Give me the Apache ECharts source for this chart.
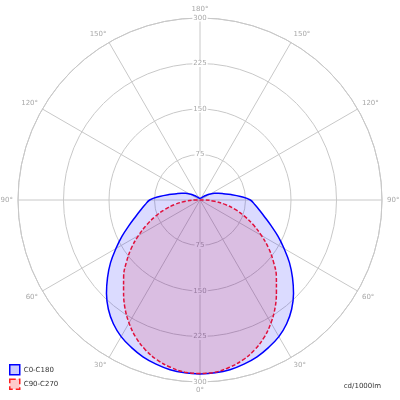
<!DOCTYPE html>
<html>
<head>
<meta charset="utf-8">
<script src="https://cdn.jsdelivr.net/npm/echarts@6/dist/echarts.min.js"></script>
<style>
html,body{margin:0;padding:0;background:#fff;}
#main{width:400px;height:400px;}
</style>
</head>
<body>
<div id="main"></div>
<script>
// gamma angles (0 = straight down), one half of the curve, mirrored later
var angles = [0,5,10,15,20,25,30,35,40,45,50,55,60,65,70,75,80,85,90,95,100,105,110,115,120,125,130,135,140,145,150,155,160,165,170,175,180];
// C0-C180 plane, cd/1000lm
var c0Values = [287,286,284,280,275,268,260,249,235,218,199,180,160,142,125,111,100,91,83,67,52,40,32,26,20,15,11,8,6,5,4,3,3,3,3,3,3];
// C90-C270 plane, cd/1000lm
var c90Values = [286,285,280,273,263,250,234,216,196,178,158,138,117,97,78,60,42,24,6,0,0,0,0,0,0,0,0,0,0,0,0,0,0,0,0,0,0];
var radiusTicks = [0,75,150,225,300];
var seriesNames = ['C0-C180','C90-C270'];
var unitLabel = 'cd/1000lm';

// build full 0..360 polar data, mirrored on both sides
function fullCurve(vals){
	var out = [];
	for (var i = 0; i < angles.length; i++) {
		out.push([vals[i], angles[i]]);
	}
	for (var j = angles.length - 2; j >= 0; j--) {
		out.push([vals[j], 360 - angles[j]]);
	}
	return out;
}

var gridColor = '#c8c8c8';
var labelColor = '#a8a8a8';
var fontName = 'DejaVu Sans';

var myChart = echarts.init(document.getElementById('main'));

var option = {
	animation: false,
	textStyle: { fontFamily: fontName },
	title: {
		text: unitLabel,
		right: 19,
		bottom: 10,
		padding: 0,
		textStyle: { fontSize: 7, fontWeight: 'normal', color: '#333', fontFamily: fontName }
	},
	legend: {
		orient: 'vertical',
		left: 9,
		bottom: 10,
		padding: 0,
		itemWidth: 10,
		itemHeight: 10,
		itemGap: 3,
		icon: 'rect',
		textStyle: { fontSize: 7, color: '#333', fontFamily: fontName, padding: [0,0,0,-1] },
		data: [
			{ name: seriesNames[0], itemStyle: { color: 'rgba(0,0,255,0.2)', borderColor: '#0000ff', borderWidth: 1.5 } },
			{ name: seriesNames[1], itemStyle: { color: 'rgba(255,0,0,0.2)', borderColor: '#ff2020', borderWidth: 1.5, borderType: 'dashed' } }
		]
	},
	polar: [
		{ center: ['50%','50%'], radius: 182 },
		{ center: ['50%','50%'], radius: 182 }
	],
	angleAxis: [
		{
			polarIndex: 0,
			type: 'value',
			min: 0,
			max: 360,
			interval: 30,
			startAngle: 270,
			clockwise: true,
			axisLine: { lineStyle: { color: gridColor, width: 1 } },
			axisTick: { show: false },
			splitLine: { lineStyle: { color: gridColor, width: 1 } },
			axisLabel: {
				color: labelColor,
				fontSize: 7,
				margin: 5,
				formatter: function(v){
					if (v === 360) return '';
					return (v <= 180 ? v : 360 - v) + '°';
				}
			}
		},
		{
			polarIndex: 1,
			type: 'value',
			min: 0,
			max: 360,
			startAngle: 90,
			axisLine: { show: false },
			axisTick: { show: false },
			axisLabel: { show: false },
			splitLine: { show: false }
		}
	],
	radiusAxis: [
		{
			polarIndex: 0,
			type: 'value',
			min: radiusTicks[0],
			max: radiusTicks[radiusTicks.length - 1],
			interval: 75,
			z: 1,
			axisLine: { show: false },
			axisTick: { show: false },
			splitLine: { lineStyle: { color: gridColor, width: 1 } },
			axisLabel: {
				showMinLabel: false,
				color: labelColor,
				fontSize: 7,
				margin: 0,
				align: 'center',
				verticalAlign: 'middle',
				backgroundColor: '#fff',
				padding: [0,1]
			}
		},
		{
			polarIndex: 1,
			type: 'value',
			min: radiusTicks[0],
			max: radiusTicks[radiusTicks.length - 1],
			interval: 75,
			z: 1,
			axisLine: { show: false },
			axisTick: { show: false },
			splitLine: { show: false },
			axisLabel: {
				showMinLabel: false,
				color: labelColor,
				fontSize: 7,
				margin: 0,
				align: 'center',
				verticalAlign: 'middle',
				backgroundColor: '#fff',
				padding: [0,1]
			}
		}
	],
	series: [
		{
			name: seriesNames[0],
			type: 'line',
			coordinateSystem: 'polar',
			polarIndex: 0,
			symbol: 'none',
			smooth: 0.4,
			data: fullCurve(c0Values),
			itemStyle: { color: '#0000ff' },
			lineStyle: { color: '#0000ff', width: 1.5 },
			areaStyle: { color: 'rgba(0,0,255,0.2)' },
			z: 3
		},
		{
			name: seriesNames[1],
			type: 'line',
			coordinateSystem: 'polar',
			polarIndex: 0,
			symbol: 'none',
			smooth: 0.4,
			data: fullCurve(c90Values),
			itemStyle: { color: '#e0103c' },
			lineStyle: { color: '#e0103c', width: 1.5, type: [4,2] },
			areaStyle: { color: 'rgba(211,0,38,0.19)' },
			z: 4
		}
	]
};

myChart.setOption(option);
</script>
</body>
</html>
